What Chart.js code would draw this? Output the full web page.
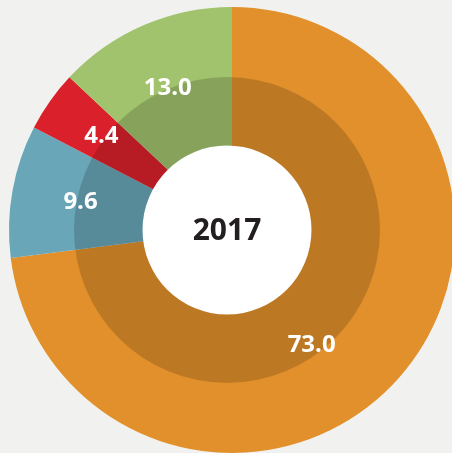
<!DOCTYPE html>
<html>
<head>
<meta charset="utf-8">
<script src="https://cdn.jsdelivr.net/npm/chart.js@4"></script>
<style>
  html, body { margin: 0; padding: 0; background: #f1f2f0; }
  #wrap { position: relative; width: 452px; height: 453px; overflow: hidden; }
  canvas { position: absolute; left: 0; top: 0; }
</style>
</head>
<body>
<div id="wrap">
  <canvas id="ringChart" width="460" height="460"></canvas>
  <canvas id="overlayChart" width="460" height="460"></canvas>
</div>
<script>
// Datos
const categorias = ['Naranja', 'Azul', 'Rojo', 'Verde']
const valores = [73.0, 9.6, 4.4, 13.0]
const etiquetas = ['73.0', '9.6', '4.4', '13.0']
const colores = ['#e2902b', '#69a6b8', '#da212b', '#a1c36d']
const anio = '2017'

// posicion de cada etiqueta dentro de su rebanada (fraccion del angulo, radio)
const posEtiqueta = [[0.553, 140], [0.51, 154], [0.53, 161], [0.48, 156]]

const ring = new Chart(document.getElementById('ringChart'), {
  type: 'doughnut',
  data: {
    labels: categorias,
    datasets: [{
      data: valores,
      backgroundColor: colores,
      borderWidth: 0
    }]
  },
  options: {
    responsive: false,
    animation: false,
    events: [],
    cutout: 0,
    layout: { padding: { left: 9, top: 7, right: 5, bottom: 7 } },
    plugins: { legend: { display: false }, tooltip: { enabled: false } }
  }
})

// Anillo oscuro + hueco blanco (ligeramente desplazados como en el original)
const etiquetasPlugin = {
  id: 'etiquetas',
  afterDraw(chart) {
    const ctx = chart.ctx
    const arcs = ring.getDatasetMeta(0).data
    ctx.save()
    ctx.fillStyle = '#ffffff'
    ctx.font = 'bold 24px "Open Sans"'
    ctx.textAlign = 'center'
    ctx.textBaseline = 'middle'
    arcs.forEach((arc, i) => {
      const [f, r] = posEtiqueta[i]
      const a = arc.startAngle + f * (arc.endAngle - arc.startAngle)
      ctx.fillText(etiquetas[i], arc.x + r * Math.cos(a), arc.y + r * Math.sin(a))
    })
    const hole = chart.getDatasetMeta(1).data[0]
    ctx.fillStyle = '#231f20'
    ctx.font = 'bold 30px "Open Sans"'
    ctx.fillText(anio, hole.x, hole.y + 1)
    ctx.restore()
  }
}

new Chart(document.getElementById('overlayChart'), {
  type: 'doughnut',
  data: {
    labels: ['anillo'],
    datasets: [
      { data: [1], backgroundColor: 'rgba(0,0,0,0.16)', borderWidth: 0, weight: 68.5 },
      { data: [1], backgroundColor: '#ffffff', borderWidth: 0, weight: 84.5 }
    ]
  },
  options: {
    responsive: false,
    animation: false,
    events: [],
    cutout: 0,
    layout: { padding: { left: 74, top: 77, right: 80, bottom: 77 } },
    plugins: { legend: { display: false }, tooltip: { enabled: false } }
  },
  plugins: [etiquetasPlugin]
})
</script>
</body>
</html>
